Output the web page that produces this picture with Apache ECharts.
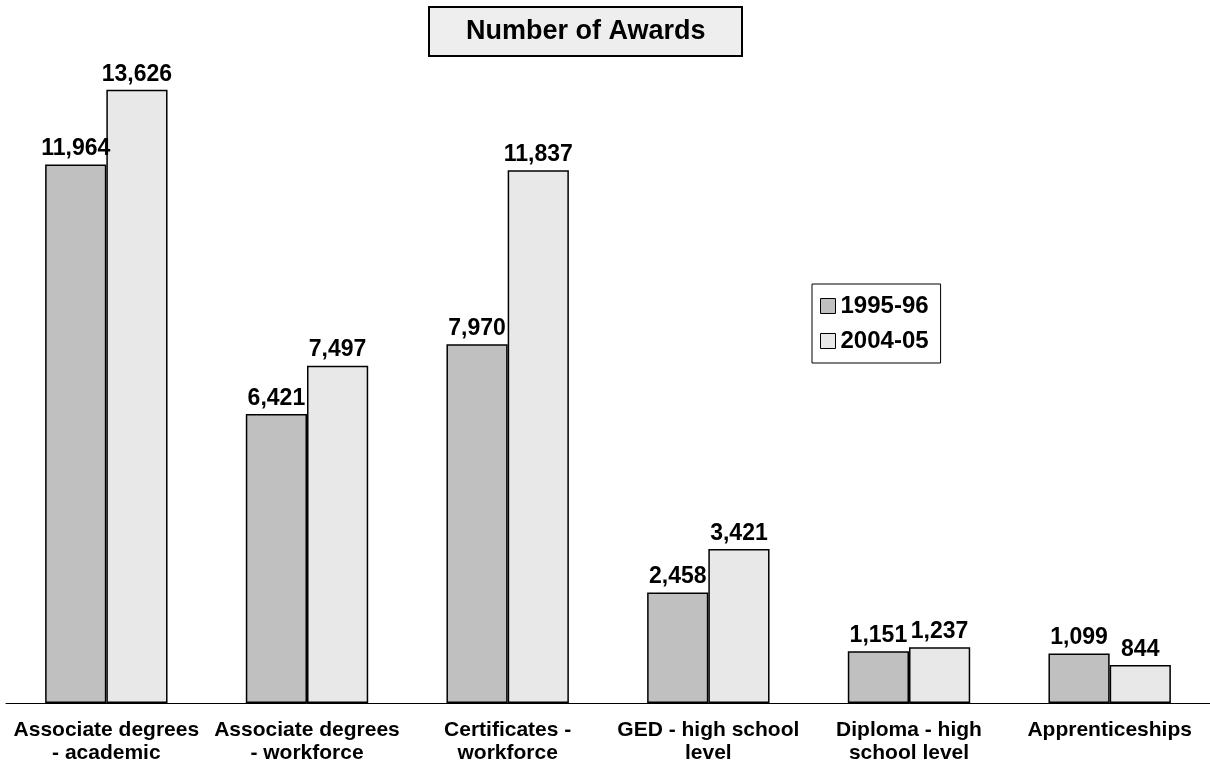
<!DOCTYPE html>
<html>
<head>
<meta charset="utf-8">
<script src="https://cdn.jsdelivr.net/npm/echarts@6/dist/echarts.min.js"></script>
<style>
  html, body { margin: 0; padding: 0; background: #fff; }
  #chart { width: 1210px; height: 768px; }
</style>
</head>
<body>
<div id="chart"></div>
<script>
const categories = [
  'Associate degrees\n- academic',
  'Associate degrees\n- workforce',
  'Certificates -\nworkforce',
  'GED - high school\nlevel',
  'Diploma - high\nschool level',
  'Apprenticeships'
]
const seriesNames = ['1995-96', '2004-05']
const awards9596 = [11964, 6421, 7970, 2458, 1151, 1099]
const awards0405 = [13626, 7497, 11837, 3421, 1237, 844]

const FONT = 'Liberation Sans, Arial, sans-serif'
const COLORS = ['#c0c0c0', '#e8e8e8']

const chart = echarts.init(document.getElementById('chart'))

function barSeries(name, data, color) {
  return {
    name,
    type: 'bar',
    data,
    barGap: '0%',
    barCategoryGap: '39%',
    itemStyle: { color, borderColor: '#000', borderWidth: 1.5 },
    label: {
      show: true,
      position: 'top',
      distance: 4,
      fontFamily: FONT,
      fontWeight: 'bold',
      fontSize: 23,
      color: '#000',
      formatter: (p) => p.value.toLocaleString('en-US'),
    },
  }
}

chart.setOption({
  animation: false,
  title: {
    text: 'Number of Awards',
    left: 429,
    top: 7,
    padding: [11, 37, 11, 37],
    backgroundColor: '#eeeeee',
    borderColor: '#000',
    borderWidth: 2,
    textStyle: { fontFamily: FONT, fontWeight: 'bold', fontSize: 27, color: '#000' },
  },
  legend: {
    orient: 'vertical',
    left: 812,
    top: 284,
    padding: [10, 12, 10, 8],
    itemGap: 11,
    itemWidth: 15,
    itemHeight: 15,
    icon: 'rect',
    borderColor: '#000',
    borderWidth: 1,
    itemStyle: { borderColor: '#000', borderWidth: 1 },
    textStyle: { fontFamily: FONT, fontWeight: 'bold', fontSize: 24, color: '#000' },
    data: seriesNames,
  },
  grid: { left: 6, right: -6, top: 28, bottom: 65 },
  xAxis: {
    type: 'category',
    data: categories,
    axisLine: { lineStyle: { color: '#000', width: 1 } },
    axisTick: { show: false },
    axisLabel: {
      interval: 0,
      margin: 16,
      lineHeight: 23,
      fontFamily: FONT,
      fontWeight: 'bold',
      fontSize: 21,
      color: '#000',
    },
  },
  yAxis: {
    type: 'value',
    min: 0,
    max: 15000,
    show: false,
    splitLine: { show: false },
  },
  series: [
    barSeries(seriesNames[0], awards9596, COLORS[0]),
    barSeries(seriesNames[1], awards0405, COLORS[1]),
  ],
})
</script>
</body>
</html>
